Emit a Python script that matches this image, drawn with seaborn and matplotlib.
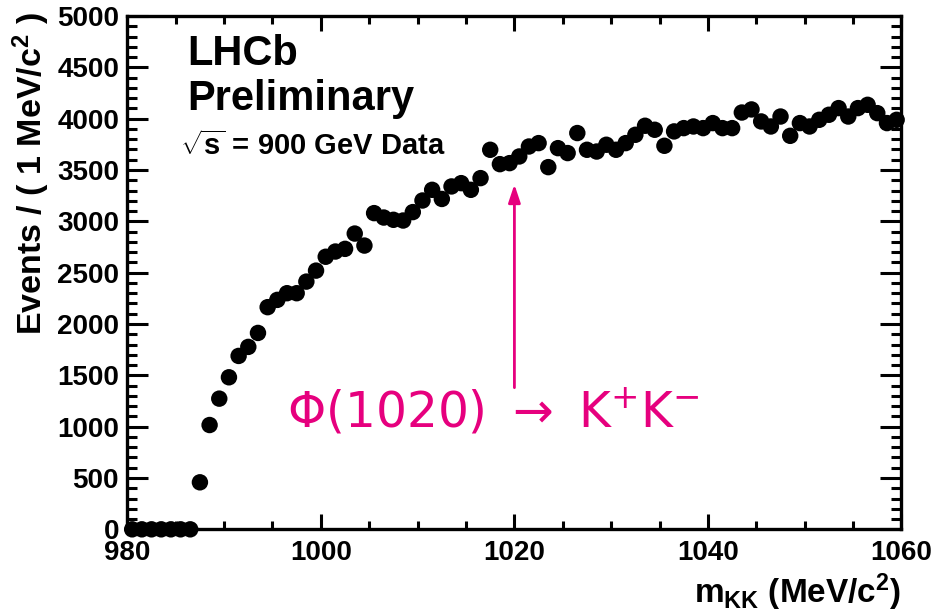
import numpy as np
import pandas as pd
import matplotlib
matplotlib.use("Agg")
import matplotlib.pyplot as plt
import seaborn as sns
from matplotlib.ticker import MultipleLocator

# ---- data (bin centres in MeV/c^2, events per 1 MeV/c^2) ----
mass = [980.5 + i for i in range(80)]
events = [
    0, 0, 0, 0, 0, 0, 0,                               # 980.5 - 986.5
    458, 1016, 1273, 1481, 1689, 1777, 1913,           # 987.5 - 993.5
    2164, 2235, 2300, 2300, 2413, 2520, 2655,          # 994.5 - 1000.5
    2706, 2732, 2881, 2764, 3080, 3037, 3015,          # 1001.5 - 1007.5
    3008, 3090, 3203, 3307, 3218, 3340, 3372,          # 1008.5 - 1014.5
    3307, 3421, 3697, 3557, 3567, 3632, 3729,          # 1015.5 - 1021.5
    3762, 3528, 3713, 3665, 3860, 3697, 3680,          # 1022.5 - 1028.5
    3746, 3697, 3762, 3843, 3931, 3892, 3736,          # 1029.5 - 1035.5
    3876, 3908, 3924, 3908, 3957, 3908, 3908,          # 1036.5 - 1042.5
    4060, 4090, 3973, 3924, 4021, 3833, 3957,          # 1043.5 - 1049.5
    3924, 3989, 4038, 4103, 4021, 4103, 4135,          # 1050.5 - 1056.5
    4054, 3957, 3989,                                  # 1057.5 - 1059.5
]
df = pd.DataFrame({"mass": mass, "events": events})

x_ticks = [980, 1000, 1020, 1040, 1060]
y_ticks = [0, 500, 1000, 1500, 2000, 2500, 3000, 3500, 4000, 4500, 5000]

sns.set_theme(style="ticks")
plt.rcParams["font.family"] = ["Liberation Sans", "DejaVu Sans"]
plt.rcParams["text.color"] = "black"
plt.rcParams["axes.labelcolor"] = "black"
plt.rcParams["xtick.color"] = "black"
plt.rcParams["ytick.color"] = "black"
plt.rcParams["mathtext.fontset"] = "custom"
plt.rcParams["mathtext.rm"] = "Liberation Sans:bold"
plt.rcParams["mathtext.bf"] = "Liberation Sans:bold"
plt.rcParams["mathtext.it"] = "Liberation Sans:bold"
plt.rcParams["mathtext.sf"] = "Liberation Sans:bold"

fig = plt.figure(figsize=(9.37, 6.16), dpi=100)
ax = fig.add_axes([0.1359, 0.1407, 0.8262, 0.8333])

sns.scatterplot(data=df, x="mass", y="events", ax=ax, color="black",
                s=140, edgecolor="none", linewidth=0, clip_on=False, zorder=5,
                legend=False)

ax.set_xlim(980, 1060)
ax.set_ylim(0, 5000)
ax.set_xticks(x_ticks)
ax.set_yticks(y_ticks)
ax.set_xticklabels([str(v) for v in x_ticks], fontsize=20, fontweight="bold")
ax.set_yticklabels([str(v) for v in y_ticks], fontsize=20, fontweight="bold")
ax.xaxis.set_minor_locator(MultipleLocator(5))
ax.yaxis.set_minor_locator(MultipleLocator(100))
ax.tick_params(axis="both", which="both", direction="in", top=True, right=True,
               width=2.2, color="black", labelcolor="black")
ax.tick_params(axis="x", which="major", length=11, pad=8)
ax.tick_params(axis="x", which="minor", length=5.5)
ax.tick_params(axis="y", which="major", length=15, pad=6)
ax.tick_params(axis="y", which="minor", length=7.5)
for sp in ax.spines.values():
    sp.set_visible(True)
    sp.set_linewidth(2.4)
    sp.set_color("black")
ax.set_xlabel("")
ax.set_ylabel("")

# axis titles (ROOT style: aligned to the end of the axes)
fig.text(0.033, 0.980, r"Events / ( 1 MeV/c$^{2}$ )", rotation=90,
         ha="center", va="top", fontsize=24.5, fontweight="bold")
fig.text(0.962, 0.021, r"m$_{\mathrm{KK}}$ (MeV/c$^{2}$)", ha="right",
         va="baseline", fontsize=24, fontweight="bold")

# LHCb labels
fig.text(0.1996, 0.8945, "LHCb", fontsize=30, fontweight="bold", va="baseline")
fig.text(0.1996, 0.8214, "Preliminary", fontsize=30, fontweight="bold", va="baseline")
fig.text(0.192, 0.748, r"$\sqrt{s}$ = 900 GeV Data", fontsize=21,
         fontweight="bold", va="baseline")

# phi annotation
magenta = "#E6007E"
ax.annotate("", xy=(1020, 3360), xytext=(1020, 1380),
            arrowprops=dict(arrowstyle="-|>,head_length=0.9,head_width=0.3",
                            color=magenta, lw=2.0, shrinkA=0, shrinkB=0))
fig.text(0.306, 0.3068,
         r"$\Phi(1020)\ \rightarrow\ \mathrm{K}^{+}\mathrm{K}^{-}$",
         color=magenta, fontsize=35, va="baseline", ha="left",
         fontweight="normal", math_fontfamily="dejavusans")

fig.savefig("out.png", dpi=100)
